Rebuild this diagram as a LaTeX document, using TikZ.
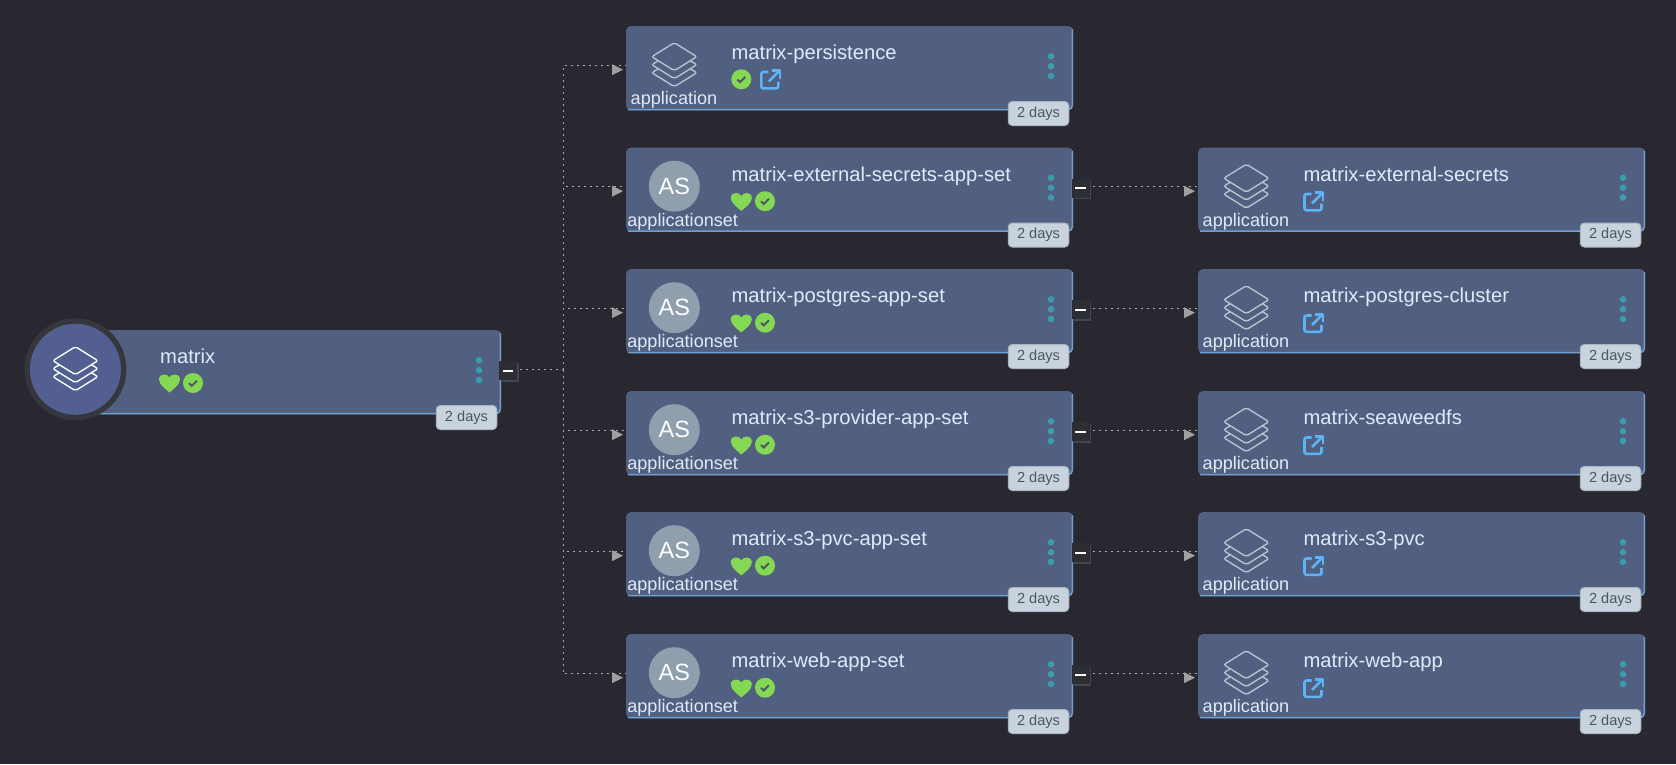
\documentclass[tikz,border=0pt]{standalone}
\usepackage{fontspec}
\setmainfont{Liberation Sans}
\definecolor{bgc}{HTML}{292830}
\definecolor{cardc}{HTML}{515F80}
\definecolor{edgec}{HTML}{6F9FCF}
\definecolor{txtc}{HTML}{E0EAF8}
\definecolor{okc}{HTML}{85D854}
\definecolor{linkc}{HTML}{5DB3F5}
\definecolor{dotc}{HTML}{3A9CAE}
\definecolor{badgec}{HTML}{C9D3DD}
\definecolor{badgeb}{HTML}{A9B6C2}
\definecolor{badget}{HTML}{495763}
\definecolor{asc}{HTML}{8F9FAD}
\definecolor{iconc}{HTML}{BEC4CF}
\definecolor{ringc}{HTML}{35373D}
\definecolor{rootc}{HTML}{525F90}
\definecolor{btnc}{HTML}{2C2E34}
\definecolor{btns}{HTML}{42464D}
\definecolor{linec}{HTML}{A8A8A8}
\definecolor{tipc}{HTML}{A0A0A0}
\tikzset{
 card/.style={fill=cardc,rounded corners=5pt,minimum width=447pt,minimum height=84.3pt,inner sep=0pt,outer sep=0pt,anchor=north west},
 cardedge/.style={draw=edgec,line width=1.5pt,rounded corners=4pt},
 cardtitle/.style={text=txtc,font=\fontsize{20.2}{22}\selectfont,anchor=base west,inner sep=0pt},
 kindlabel/.style={text=txtc,font=\fontsize{18.1}{20}\selectfont,anchor=base,inner sep=0pt},
 agebadge/.style={fill=badgec,draw=badgeb,line width=1pt,rounded corners=4pt,text=badget,font=\fontsize{14.6}{16}\selectfont,minimum width=60.5pt,minimum height=24pt,inner sep=0pt},
 asdisc/.style={circle,fill=asc,minimum size=51pt,inner sep=0pt,text=white,font=\fontsize{23.5}{25}\selectfont},
 conn/.style={draw=linec,line width=0.9pt,dash pattern=on 2pt off 4pt},
 minusbtn/.style={fill=btnc,minimum width=18pt,minimum height=19pt,inner sep=0pt,outer sep=0pt},
 layer/.style={line width=1.35pt,rounded corners=2pt,line join=round},
}
\newcommand{\layersicon}[3]{% x, y of top-diamond centre, stroke/fill opts
 \begin{scope}[shift={(#1,#2)}]
  \foreach \dy in {16,8,0}{
   \draw[layer,#3] (0,\dy-14) -- (22.5,\dy) -- (0,\dy+14) -- (-22.5,\dy) -- cycle;
  }
 \end{scope}}
\newcommand{\heartmark}[2]{\fill[okc,shift={(#1,#2)}] (0,9.5) .. controls (-3,6.5) and (-10.5,2) .. (-10.5,-3.5) .. controls (-10.5,-7) and (-8,-8.5) .. (-5.5,-8.5) .. controls (-3,-8.5) and (-1,-7.5) .. (0,-5.5) .. controls (1,-7.5) and (3,-8.5) .. (5.5,-8.5) .. controls (8,-8.5) and (10.5,-7) .. (10.5,-3.5) .. controls (10.5,2) and (3,6.5) .. (0,9.5) -- cycle;}
\newcommand{\checkmarkc}[2]{\begin{scope}[shift={(#1,#2)}]\fill[okc] (0,0) circle[radius=10pt];\draw[draw=badget,line width=1.9pt] (-4,0.2) -- (-1.2,2.8) -- (4,-2.4);\end{scope}}
\newcommand{\linkmark}[2]{\begin{scope}[shift={(#1,#2)},draw=linkc,line width=2.6pt,line join=round]
 \draw[rounded corners=2pt] (-2,-7.5) -- (-9,-7.5) -- (-9,8.8) -- (8,8.8) -- (8,2);
 \draw (-1.5,2) -- (8.5,-8);
 \draw (1.5,-8.8) -- (9.6,-8.8) -- (9.6,-0.8);
\end{scope}}
\newcommand{\cardbase}[5]{% name, x, y, title, body
 \begin{scope}[shift={(#2,#3)}]
  \node[card] (#1) at (0,0) {};
  \draw[cardedge] (2,83.5) -- (446.3,83.5) -- (446.3,3);
  \node[cardtitle] (#1title) at (105.4,33.5) {#4};
  \foreach \dy in {30.3,40.2,50}{\fill[dotc] (425,\dy) circle[radius=3.3pt];}
  \node[agebadge] (#1age) at (412.5,87.5) {2 days};
  #5
 \end{scope}}
\newcommand{\tipat}[1]{\fill[tipc] ([xshift=-14pt,yshift=-7pt]#1.west) -- ([xshift=-3pt,yshift=-1.5pt]#1.west) -- ([xshift=-14pt,yshift=4pt]#1.west) -- cycle;}
\newcommand{\btnat}[3]{\fill[btns] (#2-7,#3-7.5) rectangle (#2+10.5,#3+11);\node[minusbtn] (#1) at (#2,#3) {};\fill[white] (#2-5.2,#3-1) rectangle (#2+5.2,#3+1);}
\newcounter{scopecount}
\begin{document}
\begin{tikzpicture}[x=1pt,y=-1pt]
\useasboundingbox (0,0) rectangle (1676,764);
\fill[bgc] (0,0) rectangle (1676,764);
% root
\cardbase{root}{54}{330}{}{}
\node[cardtitle] (roottitleb) at (160,363) {matrix};
\heartmark{169.5}{383}
\checkmarkc{193}{383}
\fill[ringc] (75.4,369.3) circle[radius=51pt];
\fill[rootc] (75.4,369.3) circle[radius=45.5pt];
\layersicon{75.4}{360.7}{draw=white,fill=rootc}
% left column
\cardbase{pe}{626}{26}{matrix-persistence}{
 \layersicon{48.3}{30.7}{draw=iconc,fill=cardc}
 \node[kindlabel] (pekind) at (48,78.3) {application};
 \checkmarkc{115.3}{53.3}
 \linkmark{144.3}{53.5}
}
\newcommand{\asbody}{
 \node[asdisc] (asd\thescopecount) at (48.3,38.7) {AS};
 \node[kindlabel] (ask\thescopecount) at (56.7,78.7) {applicationset};
 \heartmark{115.3}{54}
 \checkmarkc{139}{53.7}
}
\newcommand{\rightcard}[3]{% name, y, title
 \cardbase{#1}{1198}{#2}{#3}{
  \layersicon{48.3}{30.7}{draw=iconc,fill=cardc}
  \node[kindlabel] (#1kind) at (48,78.7) {application};
  \linkmark{115.5}{54}
 }}
\stepcounter{scopecount}\cardbase{es}{626}{147.5}{matrix-external-secrets-app-set}{\asbody}
\stepcounter{scopecount}\cardbase{pg}{626}{269}{matrix-postgres-app-set}{\asbody}
\stepcounter{scopecount}\cardbase{s3}{626}{391}{matrix-s3-provider-app-set}{\asbody}
\stepcounter{scopecount}\cardbase{pv}{626}{512}{matrix-s3-pvc-app-set}{\asbody}
\stepcounter{scopecount}\cardbase{wb}{626}{634}{matrix-web-app-set}{\asbody}
% right column
\rightcard{res}{147.5}{matrix-external-secrets}
\rightcard{rpg}{269}{matrix-postgres-cluster}
\rightcard{rs3}{391}{matrix-seaweedfs}
\rightcard{rpv}{512}{matrix-s3-pvc}
\rightcard{rwb}{634}{matrix-web-app}
% buttons
\btnat{rootbtn}{508}{370.7}
\btnat{esbtn}{1080.5}{188}
\btnat{pgbtn}{1080.5}{309.5}
\btnat{s3btn}{1080.5}{431.5}
\btnat{pvbtn}{1080.5}{552.5}
\btnat{wbbtn}{1080.5}{674.5}
% connectors
\coordinate (hub) at (563,369.5);
\draw[conn] (rootbtn.east |- hub) ++(3,0) -- (hub);
\foreach \n in {pe,es,pg,s3,pv,wb}{
 \path (\n.west) ++(0,-2.8) coordinate (\n in);
 \draw[conn] (hub) |- (\n in);
 \tipat{\n}
}
\foreach \n in {es,pg,s3,pv,wb}{
 \path (r\n.west) ++(0,-2.8) coordinate (r\n in);
 \draw[conn] (\n btn.east |- r\n in) ++(3,0) -- (r\n in);
 \tipat{r\n}
}
\end{tikzpicture}
\end{document}
